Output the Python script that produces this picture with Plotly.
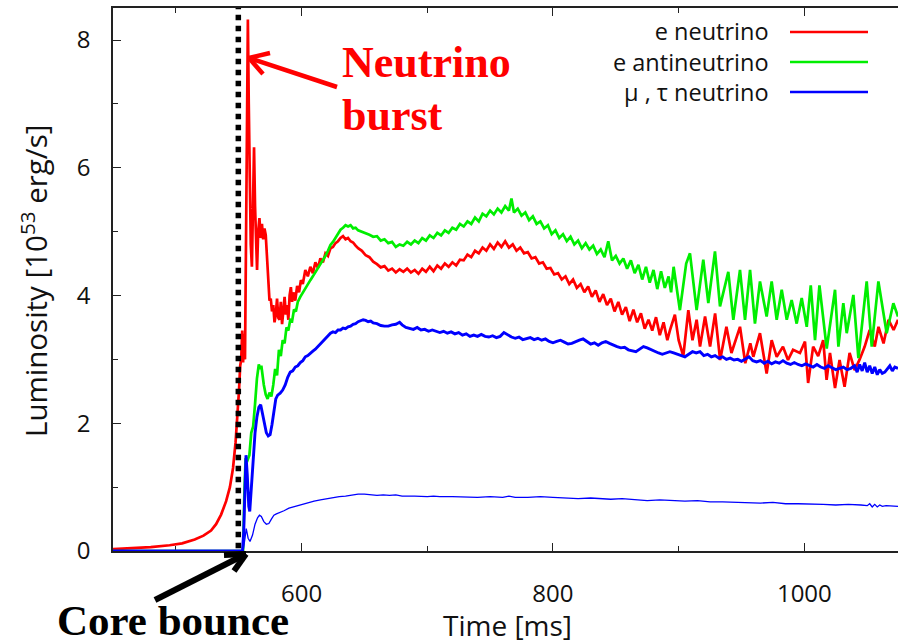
import plotly.graph_objects as go

# ---------------- data ----------------
# time in ms, luminosity in 10^53 erg/s
RED_T = [450, 465, 480, 495, 505, 515, 522, 528, 532, 536, 540, 543, 545.5, 547.5, 549, 550.2, 551.2,
         552.0, 552.8, 553.5, 554.3, 555.0, 555.8, 556.6, 557.3, 558.0, 558.8, 559.6, 560.5, 561.3, 562.2,
         563.0, 563.8, 564.6, 565.5, 566.5, 567.5, 568.5, 569.5, 570.5, 571.5, 572.5, 573.5, 574.5, 575.5,
         576.5, 577.5, 578.5, 579.5, 580.5, 581.5, 582.5, 583.5, 584.5, 585.5, 586.5, 587.5, 588.5, 589.5,
         590.5, 591.5, 592.5, 593.5, 595, 596.5, 598, 599.5, 601, 603, 605, 607, 609, 611, 613, 615, 617,
         619, 621, 623, 625, 627, 629, 631, 633, 635, 637, 639, 641, 643, 645, 648, 651, 654, 657, 660, 663,
         666, 669, 672, 675, 678, 681, 684, 687, 690, 693, 696, 699, 702, 705, 708, 711, 714, 717, 720, 723,
         726, 729, 732, 735, 738, 741, 744, 747, 750, 753, 756, 759, 762, 765, 768, 771, 774, 777, 780, 783,
         786, 789, 792, 795, 798, 801, 804, 807, 810, 813, 816, 819, 822, 825, 828, 831, 834, 837, 840, 843,
         846, 849, 852, 855, 858, 861, 864, 867, 870, 873, 876, 879, 882, 885, 888, 891, 893, 897, 900, 903.7,
         907.7, 911, 914.3, 917, 921, 925, 929, 933, 938, 942, 948.8, 953, 957, 959.4, 964.7, 970, 974, 978,
         983, 987, 991, 996.5, 1000.5, 1003, 1007, 1011, 1015, 1017.7, 1020.4, 1024.4, 1028, 1032, 1036,
         1040, 1044, 1048, 1052, 1056, 1059, 1063, 1067, 1071, 1074.5]
RED_L = [0.03, 0.04, 0.06, 0.09, 0.12, 0.18, 0.24, 0.32, 0.42, 0.57, 0.78, 1.0, 1.3, 1.7, 2.1, 2.5, 2.9,
         3.0, 3.45, 2.95, 3.4, 3.0, 4.8, 7.3, 8.32, 7.0, 5.6, 4.8, 4.45, 5.2, 6.32,
         5.4, 4.9, 4.4, 5.0, 5.21, 4.9, 5.12, 4.88, 5.05, 4.95, 4.6, 4.1, 3.92, 3.95,
         3.75, 3.85, 3.58, 3.7, 3.95, 3.65, 3.62, 3.9, 3.55, 3.75, 3.98, 3.7, 3.85, 3.62,
         4.0, 4.13, 3.9, 4.05, 3.92, 4.15, 4.05, 4.24, 4.18, 4.4, 4.3, 4.45, 4.35, 4.52, 4.43, 4.58, 4.52,
         4.66, 4.62, 4.74, 4.76, 4.82, 4.85, 4.9, 4.93, 4.88, 4.9, 4.85, 4.83, 4.78, 4.74, 4.7, 4.63, 4.6, 4.53, 4.49, 4.44,
         4.46, 4.39, 4.42, 4.36, 4.41, 4.37, 4.42, 4.36, 4.4, 4.34, 4.42, 4.37, 4.45, 4.38, 4.47, 4.42, 4.5, 4.45, 4.52, 4.47,
         4.56, 4.55, 4.64, 4.6, 4.7, 4.66, 4.75, 4.7, 4.8, 4.73, 4.83, 4.76, 4.85, 4.75, 4.8, 4.7, 4.75, 4.66, 4.68, 4.58,
         4.6, 4.5, 4.52, 4.42, 4.43, 4.33, 4.35, 4.25, 4.3, 4.18, 4.25, 4.12, 4.18, 4.05, 4.14, 3.98, 4.08, 3.9, 4.02, 3.85,
         3.95, 3.75, 3.9, 3.7, 3.82, 3.6, 3.78, 3.58, 3.72, 3.48, 3.62, 3.45, 3.66, 3.38, 3.58, 3.3, 3.45, 3.7, 3.3, 3.05,
         3.77, 3.3, 3.62, 3.2, 3.67, 3.2, 3.72, 2.99, 3.51, 3.1, 3.51, 2.94, 3.25, 3.04, 3.41, 2.78, 3.30, 3.04,
         3.20, 2.99, 3.15, 3.10, 3.28, 2.63, 3.20, 3.05, 3.30, 2.68, 3.10, 2.55, 2.99, 2.57, 3.10,
         2.83, 3.0, 3.20, 3.46, 3.20, 3.51, 3.25, 3.62, 3.46, 3.62]

GREEN_T = [450, 553.5, 554.5, 555.5, 557, 558.5, 560, 561.5, 563, 564.5, 566, 567, 568, 569, 570, 571.5,
           573, 574.5, 576, 577.5, 579, 580.5, 582, 583.5, 585, 586.5, 588, 589.5, 591, 592.5, 594, 595.5,
           597, 599, 601, 603, 605, 607, 609, 611, 613, 615, 617, 619, 621, 623, 625, 627, 629, 631, 633, 635,
           637, 639, 641, 643, 645, 648, 651, 654, 657, 660, 663, 666, 669, 672, 675, 678, 681, 684, 687, 690,
           693, 696, 699, 702, 705, 708, 711, 714, 717, 720, 723, 726, 729, 732, 735, 738, 741, 744, 747, 750,
           753, 756, 759, 762, 765, 767, 769, 772, 775, 778, 781, 784, 787, 790, 793, 796, 799, 802, 805, 808,
           811, 814, 817, 820, 823, 826, 829, 832, 835, 838, 841, 844, 847, 850, 853, 856, 859, 862, 865, 868,
           871, 874, 877, 880, 883, 886, 889, 892, 894, 896, 901, 906, 909, 914.3, 919.6, 923.6, 928.9, 932.9,
           939.5, 943.5, 948.8, 952.8, 956.8, 960.7, 964.7, 970.0, 974.0, 978.0, 982.0, 986.0, 989.9, 993.9,
           997.9, 1001.9, 1005.1, 1008.5, 1012.0, 1017.8, 1024.4, 1027.1, 1031.0, 1033.7, 1039.0, 1043.0,
           1049.6, 1053.6, 1058.9, 1065.5, 1070.8, 1074.5]
GREEN_L = [0, 0, 0.9, 1.45, 1.42, 1.5, 1.85, 1.95, 2.3, 2.7, 2.92, 2.85, 2.9, 2.7, 2.6, 2.45,
           2.38, 2.48, 2.42, 2.6, 2.85, 2.75, 3.15, 3.05, 3.3, 3.25, 3.5, 3.45, 3.62, 3.6, 3.78, 3.75,
           3.9, 3.98, 4.05, 4.1, 4.18, 4.24, 4.3, 4.36, 4.42, 4.5, 4.56, 4.62, 4.7, 4.79, 4.84, 4.9, 4.97, 5.03, 5.06, 5.1,
           5.08, 5.1, 5.05, 5.06, 5.02, 5.0, 4.97, 4.95, 4.92, 4.93, 4.86, 4.88, 4.82, 4.84, 4.76, 4.8, 4.78, 4.84, 4.8, 4.86,
           4.82, 4.9, 4.86, 4.94, 4.9, 4.98, 4.94, 5.02, 4.98, 5.06, 5.03, 5.12, 5.08, 5.16, 5.12, 5.22, 5.16, 5.28, 5.24, 5.33,
           5.27, 5.36, 5.3, 5.4, 5.33, 5.52, 5.3, 5.36, 5.25, 5.3, 5.18, 5.24, 5.12, 5.16, 5.05, 5.1, 4.96, 5.02, 4.9, 4.96,
           4.85, 4.92, 4.8, 4.86, 4.74, 4.82, 4.72, 4.78, 4.65, 4.72, 4.6, 4.85, 4.55, 4.62, 4.5, 4.58, 4.42, 4.55, 4.35, 4.48,
           4.25, 4.45, 4.2, 4.4, 4.1, 4.38, 4.12, 4.3, 4.05, 4.45, 3.77, 4.5, 4.66, 3.77, 4.56, 3.88, 4.69, 3.83,
           4.37, 3.62, 4.40, 3.62, 4.40, 3.56, 4.22, 3.67, 4.22, 3.62, 4.09, 3.62, 3.93, 3.56,
           3.96, 3.51, 4.16, 3.30, 4.16, 3.17, 4.09, 3.20, 3.88, 3.41, 4.01, 3.02,
           4.22, 3.20, 4.22, 3.41, 3.88, 3.67]

BLUE_T = [450, 553, 554, 555, 555.8, 556.8, 558, 558.8, 560, 561.5, 563, 564.5, 566, 567.5, 569, 570.5,
          572, 573.5, 575, 576.5, 578, 579.5, 581, 583, 585, 587, 589, 591, 593, 595, 597, 599, 601, 603,
          605, 607, 609, 611, 613, 615, 617, 619, 621, 623, 625, 627, 629, 631, 633, 635, 637, 639, 641, 643,
          645, 647, 649, 651, 653, 655, 657, 660, 663, 666, 669, 672, 675, 678, 680, 683, 686, 689, 692, 695,
          698, 701, 704, 707, 710, 713, 716, 719, 722, 725, 728, 731, 734, 737, 740, 743, 746, 749, 752, 755,
          758, 761, 764, 767, 770, 773, 776, 779, 782, 785, 788, 791, 794, 797, 800, 803, 806, 809, 812, 815,
          818, 821, 824, 827, 830, 833, 836, 839, 842, 845, 848, 851, 854, 857, 860, 863, 866, 869, 872, 875,
          878, 881, 884, 887, 890, 893, 896, 899, 902, 905, 908, 911, 914, 917, 920, 923, 926, 929, 932, 935,
          938, 941, 944, 947, 950, 953, 956, 959, 962, 965, 968, 971, 974, 977, 980, 983, 986, 989, 992, 995,
          998, 1001, 1004, 1007, 1010, 1013, 1016, 1019, 1022, 1025, 1028, 1031, 1034, 1037, 1040, 1042, 1044,
          1046, 1048, 1050, 1052, 1054, 1056, 1058, 1060, 1062, 1064, 1066, 1068, 1070, 1072, 1074.5]
BLUE_L = [0, 0, 0.3, 1.1, 1.5, 1.2, 0.7, 0.62, 0.95, 1.45, 1.85, 2.1, 2.25, 2.29, 2.15, 1.98,
          1.85, 1.8, 1.82, 1.98, 2.2, 2.38, 2.44, 2.47, 2.52, 2.6, 2.72, 2.8, 2.82, 2.88, 2.9, 2.95, 2.98, 3.04,
          3.06, 3.1, 3.13, 3.16, 3.2, 3.24, 3.28, 3.32, 3.37, 3.41, 3.43, 3.42, 3.46, 3.46, 3.49, 3.48, 3.51, 3.52, 3.55, 3.56,
          3.59, 3.61, 3.62, 3.61, 3.59, 3.6, 3.57, 3.56, 3.53, 3.52, 3.52, 3.54, 3.55, 3.58, 3.54, 3.5, 3.48, 3.47, 3.5, 3.46,
          3.47, 3.44, 3.46, 3.44, 3.42, 3.44, 3.41, 3.43, 3.4, 3.42, 3.38, 3.4, 3.36, 3.38, 3.36, 3.39, 3.36, 3.35, 3.37, 3.34,
          3.36, 3.42, 3.38, 3.35, 3.33, 3.35, 3.31, 3.32, 3.34, 3.31, 3.33, 3.3, 3.32, 3.28, 3.26, 3.28, 3.3, 3.27, 3.24, 3.25,
          3.28, 3.3, 3.32, 3.28, 3.24, 3.26, 3.22, 3.26, 3.28, 3.25, 3.22, 3.2, 3.18, 3.19, 3.15, 3.14, 3.12, 3.16, 3.2, 3.18,
          3.15, 3.12, 3.1, 3.08, 3.1, 3.12, 3.1, 3.08, 3.06, 3.04, 3.08, 3.12, 3.1, 3.12, 3.06, 3.08, 3.04, 3.06, 3.02, 3.04,
          3.0, 3.02, 2.99, 3.0, 2.97, 3.0, 3.04, 2.98, 2.96, 2.98, 2.94, 2.97, 2.93, 2.96, 2.94, 2.98, 2.94, 2.92, 2.95, 2.92,
          2.9, 2.93, 2.91, 2.88, 2.92, 2.88, 2.86, 2.9, 2.87, 2.84, 2.86, 2.88, 2.84, 2.86, 2.9, 2.8, 2.92,
          2.82, 2.95, 2.8, 2.9, 2.78, 2.88, 2.76, 2.84, 2.78, 2.8, 2.86, 2.9, 2.82, 2.88, 2.86]

BLUE_THIN_T = [450, 553.5, 555, 556, 557.5, 559, 561, 563, 565, 566.5, 568, 570, 572, 574, 576, 578, 580,
               583, 586, 590, 595, 600, 605, 610, 615, 620, 625, 630, 635, 640, 645, 650, 655, 660, 665, 670,
               675, 680, 690, 700, 705, 710, 720, 730, 740, 750, 760, 765, 770, 780, 790, 800, 810, 820, 830,
               840, 846, 855, 865, 875, 885, 895, 905, 915, 925, 935, 945, 955, 965, 975, 985, 995, 1005, 1015,
               1025, 1035, 1045, 1050, 1052, 1054, 1056, 1058, 1060, 1062, 1065, 1070, 1074.5]
BLUE_THIN_L = [0, 0, 0.2, 0.35, 0.2, 0.15, 0.25, 0.42, 0.52, 0.56, 0.54, 0.46, 0.42, 0.43, 0.5, 0.56, 0.58,
               0.6, 0.63, 0.67, 0.7, 0.73, 0.76, 0.78, 0.8, 0.82, 0.84, 0.85, 0.86, 0.88, 0.89, 0.89, 0.88, 0.87, 0.88, 0.87,
               0.88, 0.86, 0.86, 0.85, 0.86, 0.85, 0.85, 0.84, 0.84, 0.85, 0.84, 0.86, 0.84, 0.84, 0.85, 0.84, 0.83, 0.82, 0.83,
               0.82, 0.81, 0.82, 0.8, 0.79, 0.8, 0.79, 0.78, 0.79, 0.77, 0.77, 0.76, 0.76, 0.75, 0.76, 0.74, 0.74, 0.74, 0.73,
               0.72, 0.73, 0.72, 0.71, 0.74, 0.69, 0.73, 0.69, 0.72, 0.7, 0.71, 0.7, 0.7]

SERIES_NAMES = ["e neutrino", "e antineutrino", "\u03bc , \u03c4 neutrino"]
SERIES_COLORS = ["#ff0000", "#00ee00", "#0000ff"]
BOUNCE_MS = 549.7
X_TICKS = [600, 800, 1000]
X_MINOR = [500, 700, 900]
Y_TICKS = [0, 2, 4, 6, 8]
Y_MINOR = [1, 3, 5, 7]

# ---------------- layout geometry ----------------
W, H = 898, 643
ML, MR, MT, MB = 113, 0, 8, 92
PW, PH = W - ML - MR, H - MT - MB


def px(x):
    return (x - ML) / PW


def py(y):
    return (H - MB - y) / PH


FONT = "Open Sans"
fig = go.Figure()

fig.add_trace(go.Scatter(x=RED_T, y=RED_L, mode="lines", line=dict(color=SERIES_COLORS[0], width=2.7),
                         showlegend=False, cliponaxis=False))
fig.add_trace(go.Scatter(x=GREEN_T, y=GREEN_L, mode="lines", line=dict(color=SERIES_COLORS[1], width=2.7),
                         showlegend=False, cliponaxis=False))
fig.add_trace(go.Scatter(x=BLUE_T, y=BLUE_L, mode="lines", line=dict(color=SERIES_COLORS[2], width=2.9),
                         showlegend=False, cliponaxis=False))
fig.add_trace(go.Scatter(x=BLUE_THIN_T, y=BLUE_THIN_L, mode="lines", line=dict(color=SERIES_COLORS[2], width=1.3),
                         showlegend=False, cliponaxis=False))

shapes = []
annotations = []

# dotted core-bounce line
shapes.append(dict(type="line", xref="x", yref="paper", x0=BOUNCE_MS, x1=BOUNCE_MS, y0=0.005, y1=1,
                   line=dict(color="black", width=5.5, dash="dot")))

# hand-made legend (right-aligned text block, sample lines to the right)
annotations.append(dict(xref="paper", yref="paper", x=px(771), y=py(62), xanchor="right", yanchor="middle",
                        align="right", text="<br>".join(SERIES_NAMES), showarrow=False,
                        font=dict(family=FONT, size=23.5, color="#111")))
leg_y = [32, 62, 92]
for col, yy in zip(SERIES_COLORS, leg_y):
    shapes.append(dict(type="line", xref="paper", yref="paper", x0=px(790), x1=px(868), y0=py(yy),
                       y1=py(yy), line=dict(color=col, width=2.5)))


def arrow(tail, tip, arm1, arm2, color, width):
    for a, b in [(tail, tip), (tip, arm1), (tip, arm2)]:
        shapes.append(dict(type="line", xref="paper", yref="paper", x0=px(a[0]), y0=py(a[1]),
                           x1=px(b[0]), y1=py(b[1]), line=dict(color=color, width=width)))


arrow((337, 87), (249, 58), (270, 53), (263, 74), "#ff0000", 4.5)
arrow((155, 600), (246, 554), (224, 555), (234, 571), "black", 6)

# text annotations
annotations.append(dict(xref="paper", yref="paper", x=px(340), y=py(63), xanchor="left", yanchor="middle",
                        text="<b>Neutrino</b>", showarrow=False,
                        font=dict(family="Liberation Serif", size=44, color="#ff0000")))
annotations.append(dict(xref="paper", yref="paper", x=px(340), y=py(115), xanchor="left", yanchor="middle",
                        text="<b>burst</b>", showarrow=False,
                        font=dict(family="Liberation Serif", size=44, color="#ff0000")))
annotations.append(dict(xref="paper", yref="paper", x=px(173), y=py(621), xanchor="center", yanchor="middle",
                        text="<b>Core bounce</b>", showarrow=False,
                        font=dict(family="Liberation Serif", size=43, color="black")))
annotations.append(dict(xref="paper", yref="paper", x=px(507), y=py(625), xanchor="center", yanchor="middle",
                        text="Time [ms]", showarrow=False, font=dict(family=FONT, size=28, color="#111")))
annotations.append(dict(xref="paper", yref="paper", x=px(35), y=py(281), xanchor="center", yanchor="middle",
                        text="Luminosity [10<sup>53</sup> erg/s]", textangle=-90, showarrow=False,
                        font=dict(family=FONT, size=29.5, color="#111")))

axis_common = dict(showgrid=False, zeroline=False, showline=True, linecolor="#222", linewidth=1.5,
                   ticks="inside", ticklen=8, tickwidth=1.2, tickcolor="#222",
                   tickfont=dict(family=FONT, size=24, color="#111"), layer="below traces")

fig.update_xaxes(range=[450, 450 + PW / 1.257], tickvals=X_TICKS, ticktext=[str(v) for v in X_TICKS],
                 mirror="allticks", ticklabelstandoff=20,
                 minor=dict(tickvals=X_MINOR, ticks="inside", ticklen=5, tickcolor="#222", tickwidth=1.2),
                 **axis_common)
fig.update_yaxes(range=[0, PH / 63.875], tickvals=Y_TICKS, ticktext=[str(v) for v in Y_TICKS],
                 mirror=False, ticklabelstandoff=16,
                 minor=dict(tickvals=Y_MINOR, ticks="inside", ticklen=5, tickcolor="#222", tickwidth=1.2),
                 **axis_common)

fig.update_layout(width=W, height=H, margin=dict(l=ML, r=MR, t=MT, b=MB, autoexpand=False),
                  plot_bgcolor="white", paper_bgcolor="white", shapes=shapes, annotations=annotations,
                  showlegend=False, font=dict(family=FONT))

fig.write_html("out.html")
